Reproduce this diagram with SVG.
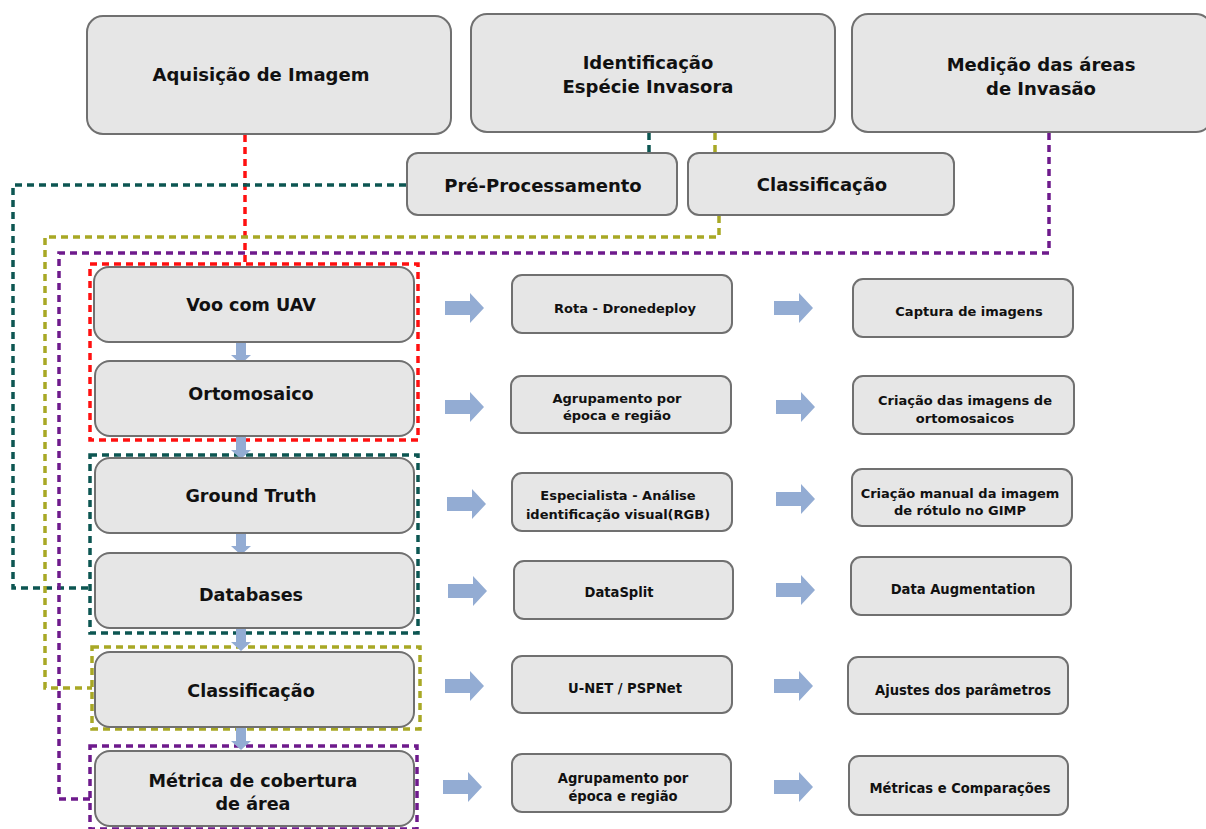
<svg xmlns="http://www.w3.org/2000/svg" width="1206" height="829" viewBox="0 0 1206 829">
<defs>
<style>
.box{fill:#e6e6e6;stroke:#707070;stroke-width:2}
.t{font-family:"DejaVu Sans","Liberation Sans",sans-serif;font-weight:bold;fill:#111;text-anchor:middle}
.top{font-size:18px}
.main{font-size:17.6px}
.sm{font-size:13px}
.cond{font-family:"DejaVu Sans Condensed","DejaVu Sans","Liberation Sans",sans-serif;font-stretch:condensed;font-size:14.6px}
.d{fill:none;stroke-width:3.5;stroke-dasharray:7 5}
.red{stroke:#ff1010}
.teal{stroke:#0c5652}
.olive{stroke:#a8a825}
.purple{stroke:#6e1a8c}
.arr{fill:#93acd3}
</style>
<path id="ra" d="M0,-7 H25 V-15 L39,0 L25,15 V7 H0 Z"/>
<path id="da" d="M-5,0 H5 V13 H10 L0,22 L-10,13 H-5 Z"/>
</defs>

<g id="connectors">
<path class="d red" d="M245,135 V263"/>
<rect class="d red" x="90" y="264" width="328" height="176"/>
<path class="d teal" d="M649,133 V153"/>
<path class="d teal" d="M406,185 H13 V588 H90"/>
<rect class="d teal" x="90" y="455" width="328" height="178"/>
<path class="d olive" d="M715,133 V153"/>
<path class="d olive" d="M719,216 V237 H45 V688 H92"/>
<rect class="d olive" x="92" y="647" width="328" height="82"/>
<path class="d purple" d="M1049,133 V253 H59 V799 H90"/>
<rect class="d purple" x="90" y="746" width="327" height="83"/>
<use href="#da" class="arr" x="241" y="342"/>
<use href="#da" class="arr" x="241" y="437"/>
<use href="#da" class="arr" x="241" y="533"/>
<use href="#da" class="arr" x="241" y="629"/>
<use href="#da" class="arr" x="241" y="728"/>
<use href="#ra" class="arr" x="445" y="308"/>
<use href="#ra" class="arr" x="445" y="407"/>
<use href="#ra" class="arr" x="447" y="504"/>
<use href="#ra" class="arr" x="448" y="591"/>
<use href="#ra" class="arr" x="445" y="686"/>
<use href="#ra" class="arr" x="443" y="787"/>
<use href="#ra" class="arr" x="774" y="308"/>
<use href="#ra" class="arr" x="776" y="407"/>
<use href="#ra" class="arr" x="776" y="499"/>
<use href="#ra" class="arr" x="776" y="590"/>
<use href="#ra" class="arr" x="774" y="686"/>
<use href="#ra" class="arr" x="774" y="787"/>
</g>

<g id="n-aquisicao"><rect class="box" x="87" y="16" width="364" height="118" rx="16"/><text class="t top" x="261" y="81">Aquisição de Imagem</text></g>
<g id="n-identificacao"><rect class="box" x="471" y="14" width="364" height="118" rx="16"/><text class="t top" x="648" y="69">Identificação</text><text class="t top" x="648" y="93">Espécie Invasora</text></g>
<g id="n-medicao"><rect class="box" x="852" y="14" width="360" height="118" rx="16"/><text class="t top" x="1041" y="71">Medição das áreas</text><text class="t top" x="1041" y="95">de Invasão</text></g>
<g id="n-preproc"><rect class="box" x="407" y="153" width="270" height="62" rx="11"/><text class="t top" x="543" y="192">Pré-Processamento</text></g>
<g id="n-classif-top"><rect class="box" x="688" y="153" width="266" height="62" rx="11"/><text class="t top" x="822" y="191">Classificação</text></g>

<g id="n-voo"><rect class="box" x="94" y="267" width="320" height="75" rx="15"/><text class="t main" x="251" y="311">Voo com UAV</text></g>
<g id="n-orto"><rect class="box" x="95" y="361" width="319" height="75" rx="15"/><text class="t main" x="251" y="400">Ortomosaico</text></g>
<g id="n-gt"><rect class="box" x="95" y="458" width="319" height="75" rx="15"/><text class="t main" x="251" y="502">Ground Truth</text></g>
<g id="n-db"><rect class="box" x="95" y="553" width="319" height="75" rx="15"/><text class="t main" x="251" y="601">Databases</text></g>
<g id="n-classif"><rect class="box" x="95" y="652" width="319" height="75" rx="15"/><text class="t main" x="251" y="697">Classificação</text></g>
<g id="n-metrica"><rect class="box" x="95" y="751" width="319" height="75" rx="15"/><text class="t main" x="253" y="787">Métrica de cobertura</text><text class="t main" x="253" y="810">de área</text></g>

<g id="n-rota"><rect class="box" x="512" y="275" width="220" height="58" rx="10"/><text class="t sm" x="625" y="313">Rota - Dronedeploy</text></g>
<g id="n-agrup1"><rect class="box" x="511" y="376" width="220" height="57" rx="10"/><text class="t sm" x="617" y="403">Agrupamento por</text><text class="t sm" x="617" y="420">época e região</text></g>
<g id="n-espec"><rect class="box" x="512" y="473" width="220" height="58" rx="10"/><text class="t sm" x="618" y="500">Especialista - Análise</text><text class="t sm" x="618" y="519">identificação visual(RGB)</text></g>
<g id="n-datasplit"><rect class="box" x="514" y="561" width="219" height="58" rx="10"/><text class="t cond" x="619" y="597">DataSplit</text></g>
<g id="n-unet"><rect class="box" x="512" y="656" width="220" height="57" rx="10"/><text class="t cond" x="625" y="693">U-NET / PSPNet</text></g>
<g id="n-agrup2"><rect class="box" x="512" y="754" width="219" height="58" rx="10"/><text class="t cond" x="623" y="783">Agrupamento por</text><text class="t cond" x="623" y="801">época e região</text></g>

<g id="n-captura"><rect class="box" x="853" y="279" width="220" height="58" rx="10"/><text class="t sm" x="969" y="316">Captura de imagens</text></g>
<g id="n-criacao"><rect class="box" x="853" y="376" width="221" height="58" rx="10"/><text class="t sm" x="965" y="405">Criação das imagens de</text><text class="t sm" x="965" y="423">ortomosaicos</text></g>
<g id="n-manual"><rect class="box" x="852" y="469" width="220" height="57" rx="10"/><text class="t sm" x="960" y="498">Criação manual da imagem</text><text class="t sm" x="960" y="515">de rótulo no GIMP</text></g>
<g id="n-augment"><rect class="box" x="851" y="557" width="220" height="58" rx="10"/><text class="t cond" x="963" y="594">Data Augmentation</text></g>
<g id="n-ajustes"><rect class="box" x="848" y="657" width="220" height="57" rx="10"/><text class="t cond" x="963" y="695">Ajustes dos parâmetros</text></g>
<g id="n-metricas"><rect class="box" x="849" y="756" width="219" height="59" rx="10"/><text class="t cond" x="960" y="793">Métricas e Comparações</text></g>
</svg>
